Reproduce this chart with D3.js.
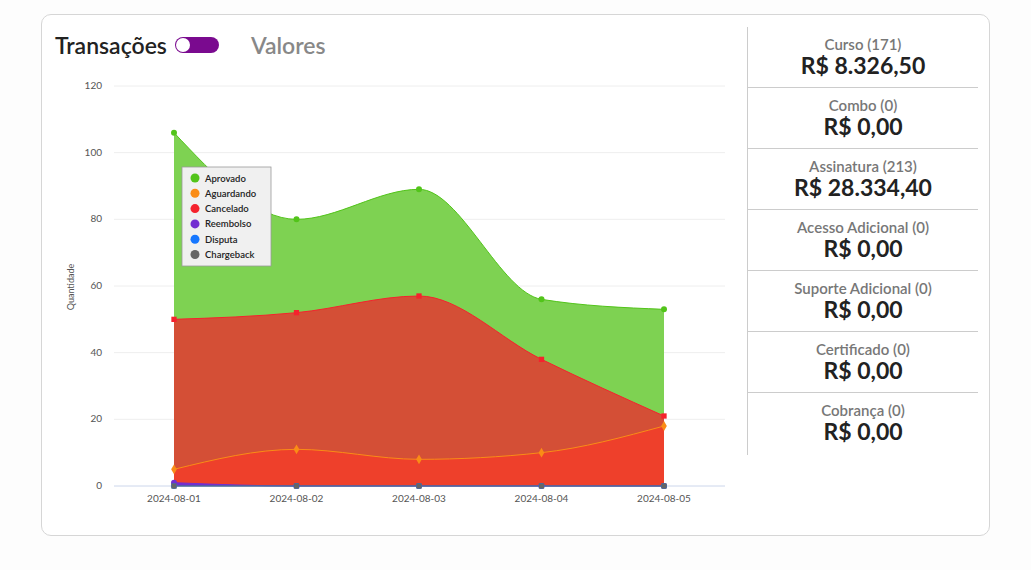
<!DOCTYPE html>
<html>
<head>
<script src="https://d3js.org/d3.v7.min.js"></script>
<style>
  body { margin:0; background:#fdfdfd; font-family: Lato, sans-serif; }
  .card { position:absolute; left:41px; top:14px; width:947px; height:520px; border:1px solid #d6d6d6; border-radius:10px; background:#fff; }
  .head { position:absolute; left:13px; top:16px; font-size:23px; font-weight:600; color:#222; display:flex; align-items:center; }
  .toggle { display:inline-block; width:44px; height:16px; border-radius:9px; background:#7a0a8f; margin:0 32px 0 8px; position:relative; }
  .toggle:before { content:""; position:absolute; left:1px; top:1px; width:14px; height:14px; border-radius:50%; background:#fff; }
  .off { color:#888; }
  .side { position:absolute; left:705px; top:12px; width:230px; height:428px; border-left:1px solid #ccc; }
  .item { height:60px; border-bottom:1px solid #ccc; text-align:center; }
  .item:last-child { border-bottom:none; }
  .lbl { font-size:15px; font-weight:600; color:#777; padding-top:8px; line-height:18px; }
  .val { font-size:23px; font-weight:700; color:#222; line-height:24px; }
  svg { position:absolute; left:0; top:0; }
</style>
</head>
<body>
<div class="card">
  <div class="head">Transações<span class="toggle"></span><span class="off">Valores</span></div>
  <div class="side" id="side"></div>
</div>
<svg id="chart" width="1031" height="570"></svg>
<script>
const dates = ["2024-08-01","2024-08-02","2024-08-03","2024-08-04","2024-08-05"];
const aprovado = [106, 80, 89, 56, 53];
const aguardando = [5, 11, 8, 10, 18];
const cancelado = [50, 52, 57, 38, 21];
const reembolso = [1, 0, 0, 0, 0];
const disputa = [0, 0, 0, 0, 0];
const chargeback = [0, 0, 0, 0, 0];
const yTicks = [0, 20, 40, 60, 80, 100, 120];
const products = ["Curso (171)","Combo (0)","Assinatura (213)","Acesso Adicional (0)","Suporte Adicional (0)","Certificado (0)","Cobrança (0)"];
const totals = ["R$ 8.326,50","R$ 0,00","R$ 28.334,40","R$ 0,00","R$ 0,00","R$ 0,00","R$ 0,00"];

const series = [
  {name:"Aprovado", values:aprovado, fill:"#7ed252", stroke:"#52c41a", sym:"circle"},
  {name:"Cancelado", values:cancelado, fill:"#d44f36", stroke:"#f5222d", sym:"square"},
  {name:"Aguardando", values:aguardando, fill:"#ee402b", stroke:"#fa8c16", sym:"diamond"},
  {name:"Reembolso", values:reembolso, fill:"#722ed1", stroke:"#722ed1", sym:"circle"},
  {name:"Disputa", values:disputa, fill:"#1677ff", stroke:"#1677ff", sym:"circle"},
  {name:"Chargeback", values:chargeback, fill:"#666", stroke:"#666", sym:"square"}
];
const legendOrder = [
  ["Aprovado","#52c41a"],["Aguardando","#fa8c16"],["Cancelado","#f5222d"],
  ["Reembolso","#722ed1"],["Disputa","#1677ff"],["Chargeback","#666"]
];

d3.select("#side").selectAll(".item").data(products).join("div").attr("class","item")
  .html((d,i) => `<div class="lbl">${d}</div><div class="val">${totals[i]}</div>`);

const svg = d3.select("#chart");
const x = d3.scalePoint().domain(dates).range([174, 664]);
const y = d3.scaleLinear().domain([0, 120]).range([486, 86]);

svg.append("g").selectAll("line").data(yTicks).join("line")
  .attr("x1",114).attr("x2",725).attr("y1",d=>y(d)).attr("y2",d=>y(d))
  .attr("stroke", d => d===0 ? "#ccd6eb" : "#eee");
svg.append("g").selectAll("text").data(yTicks).join("text")
  .attr("x",102).attr("y",d=>y(d)+3).attr("text-anchor","end")
  .attr("font-size",10).attr("fill","#555").text(d=>d);
svg.append("g").selectAll("text").data(dates).join("text")
  .attr("x",d=>x(d)).attr("y",502).attr("text-anchor","middle")
  .attr("font-size",10).attr("fill","#555").text(d=>d);
svg.append("text").attr("transform","translate(74,287) rotate(-90)")
  .attr("text-anchor","middle").attr("font-size",9).attr("fill","#555").text("Quantidade");

const area = d3.area().x((d,i)=>x(dates[i])).y0(y(0)).y1(d=>y(d)).curve(d3.curveMonotoneX);
const line = d3.line().x((d,i)=>x(dates[i])).y(d=>y(d)).curve(d3.curveMonotoneX);
series.forEach(s => {
  svg.append("path").datum(s.values).attr("d",area).attr("fill",s.fill);
  svg.append("path").datum(s.values).attr("d",line).attr("fill","none").attr("stroke",s.stroke).attr("stroke-width",1);
});
series.forEach(s => {
  const sym = d3.symbol().type(s.sym==="square"?d3.symbolSquare:s.sym==="diamond"?d3.symbolDiamond:d3.symbolCircle).size(28);
  svg.append("g").selectAll("path").data(s.values).join("path")
    .attr("transform",(d,i)=>`translate(${x(dates[i])},${y(d)})`)
    .attr("d",sym).attr("fill",s.stroke);
});

const lg = svg.append("g").attr("transform","translate(182,167)");
lg.append("rect").attr("width",89).attr("height",99).attr("fill","#f0f0f0").attr("stroke","#999").attr("stroke-width",0.8);
const li = lg.selectAll("g").data(legendOrder).join("g").attr("transform",(d,i)=>`translate(0,${11+i*15.3})`);
li.append("circle").attr("cx",13).attr("cy",0).attr("r",4.5).attr("fill",d=>d[1]);
li.append("text").attr("x",23).attr("y",3.5).attr("font-size",9.5).attr("font-weight",600).attr("fill","#222").text(d=>d[0]);
</script>
</body>
</html>
